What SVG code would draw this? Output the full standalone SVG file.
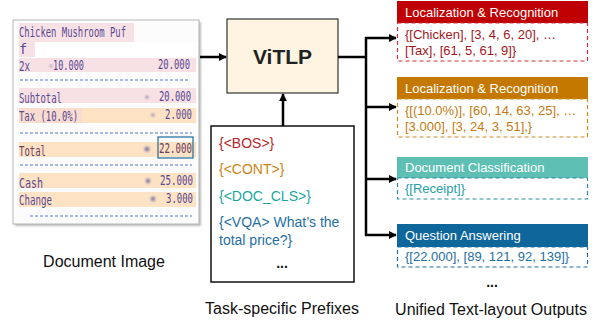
<svg xmlns="http://www.w3.org/2000/svg" width="602" height="322" viewBox="0 0 602 322">
<defs>
<marker id="ah" viewBox="0 0 10 10" refX="9" refY="5" markerWidth="8" markerHeight="8" markerUnits="userSpaceOnUse" orient="auto"><path d="M0,0 L10,5 L0,10 z" fill="#000"/></marker>
<filter id="blur" x="-1" y="-1" width="3" height="3"><feGaussianBlur stdDeviation="1.2"/></filter>
</defs>
<style>
.sans{font-family:"Liberation Sans",Arial,sans-serif}
.mono{font-family:"DejaVu Sans Mono","Liberation Mono",monospace;font-size:13.5px;fill:#5a4a94}
.cap{font-size:16px;fill:#111}
.hdr{font-size:13px;fill:#fff}
.body{font-size:13px}
.pre{font-size:14px}
.conn{stroke:#000;stroke-width:2.5;fill:none}
.dash{stroke:#5b6fd6;stroke-width:1;stroke-dasharray:3,2}
.pink{fill:#f8e1e4}
.orng{fill:#fde2c4}
.dot{fill:#8a84a8;filter:url(#blur)}
</style>
<rect width="602" height="322" fill="#fff"/>

<g id="document-image">
<rect x="15" y="22" width="186" height="204" fill="#bbb" filter="url(#blur)"/>
<rect x="13" y="20" width="186" height="204" fill="#fcfcfc" stroke="#b5b5b5" stroke-width="1"/>
<rect class="pink" x="19" y="23" width="115" height="19"/>
<rect class="pink" x="19" y="42" width="16" height="15"/>
<rect x="35" y="42" width="162" height="15" fill="#fff"/>
<rect class="pink" x="19" y="58" width="177" height="14"/>
<line class="dash" x1="20" y1="80" x2="190" y2="80"/>
<rect class="pink" x="19" y="88" width="177" height="15"/>
<rect class="orng" x="19" y="108" width="177" height="15"/>
<rect x="19" y="108" width="63" height="15" fill="#f6d8d8" opacity="0.6"/>
<line class="dash" x1="20" y1="133" x2="192" y2="133"/>
<rect class="orng" x="19" y="142" width="177" height="15"/>
<line class="dash" x1="20" y1="165" x2="192" y2="165"/>
<rect class="orng" x="19" y="173" width="177" height="15"/>
<rect class="orng" x="19" y="192" width="177" height="15"/>
<line class="dash" x1="30" y1="216" x2="192" y2="216"/>
<text class="mono" x="19" y="37" textLength="107" lengthAdjust="spacingAndGlyphs">Chicken Mushroom Puf</text>
<text class="mono" x="19" y="54">f</text>
<text class="mono" x="19" y="71" textLength="11" lengthAdjust="spacingAndGlyphs">2x</text>
<text class="mono" x="53" y="70" textLength="31" lengthAdjust="spacingAndGlyphs">10.000</text>
<text class="mono" x="190" y="69" text-anchor="end" textLength="32" lengthAdjust="spacingAndGlyphs">20.000</text>
<text class="mono" x="19" y="103" textLength="43" lengthAdjust="spacingAndGlyphs">Subtotal</text>
<text class="mono" x="191" y="101" text-anchor="end" textLength="32" lengthAdjust="spacingAndGlyphs">20.000</text>
<text class="mono" x="19" y="121" textLength="59" lengthAdjust="spacingAndGlyphs">Tax (10.0%)</text>
<text class="mono" x="192" y="119" text-anchor="end" textLength="27" lengthAdjust="spacingAndGlyphs">2.000</text>
<text class="mono" x="19" y="156" style="fill:#6a3a60" textLength="27" lengthAdjust="spacingAndGlyphs">Total</text>
<text class="mono" x="192" y="153" text-anchor="end" style="fill:#6a3a60" textLength="33" lengthAdjust="spacingAndGlyphs">22.000</text>
<rect x="158" y="137" width="35" height="21" fill="none" stroke="#1f6b99" stroke-width="1.2"/>
<text class="mono" x="19" y="188" textLength="24" lengthAdjust="spacingAndGlyphs">Cash</text>
<text class="mono" x="193" y="185" text-anchor="end" textLength="33" lengthAdjust="spacingAndGlyphs">25.000</text>
<text class="mono" x="19" y="205" textLength="33" lengthAdjust="spacingAndGlyphs">Change</text>
<text class="mono" x="193" y="203" text-anchor="end" textLength="27" lengthAdjust="spacingAndGlyphs">3.000</text>
<circle class="dot" cx="51" cy="66" r="1.2"/>
<circle class="dot" cx="147" cy="97" r="1.6"/>
<circle class="dot" cx="153" cy="115" r="1.6"/>
<circle class="dot" cx="147" cy="149" r="2.6"/>
<circle class="dot" cx="148" cy="181" r="2.4"/>
<circle class="dot" cx="153" cy="199" r="2.4"/>
<text class="sans cap" x="104" y="267" text-anchor="middle">Document Image</text>
</g>

<g id="vitlp">
<rect x="227" y="19" width="111" height="74" fill="#fff4e2" stroke="#333" stroke-width="1.2"/>
<text class="sans" x="282.5" y="64" text-anchor="middle" font-size="21" font-weight="bold" fill="#222">ViTLP</text>
</g>

<g id="prefixes">
<rect x="211" y="126" width="143" height="156" fill="#fff" stroke="#111" stroke-width="1.5"/>
<text class="sans pre" x="219" y="148" fill="#b8262a">{&lt;BOS&gt;}</text>
<text class="sans pre" x="219" y="174" fill="#cc8414">{&lt;CONT&gt;}</text>
<text class="sans pre" x="219" y="201" fill="#1aa6a0">{&lt;DOC_CLS&gt;}</text>
<text class="sans pre" x="219" y="227" fill="#1f6fa3">{&lt;VQA&gt; What’s the</text>
<text class="sans pre" x="219" y="245" fill="#1f6fa3">total price?}</text>
<text class="sans pre" x="282" y="268" text-anchor="middle" fill="#111" font-weight="bold">...</text>
<text class="sans cap" x="282" y="314" text-anchor="middle">Task-specific Prefixes</text>
</g>

<g id="out-loc1">
<rect x="397" y="1" width="191" height="22" fill="#c00000"/>
<rect x="397.5" y="23" width="190" height="38" fill="none" stroke="#d0303a" stroke-width="1.2" stroke-dasharray="4,3"/>
<text class="sans hdr" x="405" y="17">Localization &amp; Recognition</text>
<text class="sans body" x="405" y="39" fill="#a3161c">{[Chicken], [3, 4, 6, 20], …</text>
<text class="sans body" x="405" y="55" fill="#a3161c">[Tax], [61, 5, 61, 9]}</text>
</g>

<g id="out-loc2">
<rect x="397" y="77" width="191" height="22" fill="#c47800"/>
<rect x="397.5" y="99" width="190" height="38" fill="none" stroke="#d08a20" stroke-width="1.2" stroke-dasharray="4,3"/>
<text class="sans hdr" x="405" y="93">Localization &amp; Recognition</text>
<text class="sans body" x="405" y="115" fill="#c47a10">{[(10.0%)], [60, 14, 63, 25], …</text>
<text class="sans body" x="405" y="131" fill="#c47a10">[3.000], [3, 24, 3, 51],}</text>
</g>

<g id="out-cls">
<rect x="397" y="157" width="191" height="21" fill="#5ebfb4"/>
<rect x="397.5" y="178" width="190" height="21" fill="none" stroke="#2a8ea0" stroke-width="1.2" stroke-dasharray="4,3"/>
<text class="sans hdr" x="405" y="172">Document Classification</text>
<text class="sans body" x="405" y="193" fill="#23a0a6">{[Receipt]}</text>
</g>

<g id="out-qa">
<rect x="397" y="224" width="191" height="23" fill="#0e669b"/>
<rect x="397.5" y="247" width="190" height="20" fill="none" stroke="#1f6fa3" stroke-width="1.2" stroke-dasharray="4,3"/>
<text class="sans hdr" x="405" y="240">Question Answering</text>
<text class="sans body" x="405" y="261" fill="#1f6fa3">{[22.000], [89, 121, 92, 139]}</text>
<text class="sans pre" x="492" y="287" text-anchor="middle" fill="#111" font-weight="bold">...</text>
<text class="sans cap" x="491" y="315" text-anchor="middle">Unified Text-layout Outputs</text>
</g>

<g id="connectors">
<line class="conn" x1="200" y1="57" x2="226" y2="57" marker-end="url(#ah)"/>
<line class="conn" x1="283" y1="126" x2="283" y2="94" marker-end="url(#ah)"/>
<polyline class="conn" points="338,57 366,57"/>
<line class="conn" x1="366" y1="37" x2="366" y2="236"/>
<line class="conn" x1="365" y1="38" x2="396" y2="38" marker-end="url(#ah)"/>
<line class="conn" x1="365" y1="107" x2="396" y2="107" marker-end="url(#ah)"/>
<line class="conn" x1="365" y1="179" x2="396" y2="179" marker-end="url(#ah)"/>
<line class="conn" x1="365" y1="235" x2="396" y2="235" marker-end="url(#ah)"/>
</g>
</svg>
